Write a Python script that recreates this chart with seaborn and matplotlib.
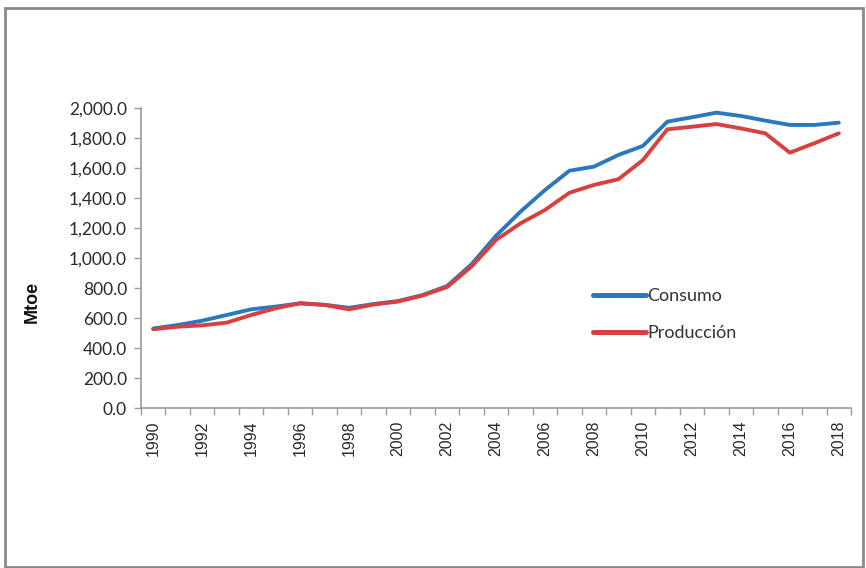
import matplotlib
matplotlib.use("Agg")
import matplotlib.pyplot as plt
import seaborn as sns
import pandas as pd
from matplotlib.patches import Rectangle
from matplotlib.ticker import FuncFormatter, MultipleLocator

years = [1990, 1991, 1992, 1993, 1994, 1995, 1996, 1997, 1998, 1999,
         2000, 2001, 2002, 2003, 2004, 2005, 2006, 2007, 2008, 2009,
         2010, 2011, 2012, 2013, 2014, 2015, 2016, 2017, 2018]
consumo = [532, 555, 584, 622, 660, 678, 700, 690, 670, 695,
           715, 755, 815, 960, 1150, 1311, 1455, 1584, 1611, 1689,
           1749, 1911, 1940, 1971, 1949, 1918, 1889, 1889, 1904]
produccion = [527, 544, 553, 571, 622, 667, 700, 689, 660, 692,
              712, 752, 808, 945, 1122, 1233, 1322, 1437, 1489, 1527,
              1655, 1860, 1877, 1895, 1866, 1833, 1704, 1767, 1833]
series_names = ["Consumo", "Producción"]
colors = ["#2b78be", "#d8403f"]

df = pd.DataFrame({
    "Año": years * 2,
    "Mtoe": consumo + produccion,
    "Serie": [series_names[0]] * len(years) + [series_names[1]] * len(years),
})

sns.set_theme(style="white")
plt.rcParams["font.family"] = ["Lato", "DejaVu Sans"]

fig = plt.figure(figsize=(8.66, 5.68), dpi=100)
ax = fig.add_axes([141 / 866, 1 - 408.3 / 568, (851 - 141) / 866, 300 / 568])

sns.lineplot(data=df, x="Año", y="Mtoe", hue="Serie", palette=colors,
             linewidth=2.8, ax=ax, legend=True)

ax.set_xlim(years[0] - 0.5, years[-1] + 0.5)
ax.set_ylim(0, 2000)
ax.yaxis.set_major_locator(MultipleLocator(200))
ax.yaxis.set_major_formatter(FuncFormatter(lambda v, p: f"{v:,.1f}"))
ax.set_xticks(years[::2])
ax.set_xticklabels([str(y) for y in years[::2]], rotation=90,
                   family=["Liberation Sans", "DejaVu Sans"], fontsize=11.5,
                   color="#2a2a2a")
ax.set_xticks([y + 0.5 for y in [years[0] - 1] + years], minor=True)
ax.tick_params(axis="x", which="major", length=0, pad=9)
ax.tick_params(axis="x", which="minor", length=5, width=1, color="#9a9a9a",
               direction="out", bottom=True)
ax.tick_params(axis="y", which="major", length=5, width=1, color="#9a9a9a",
               direction="out", left=True, labelsize=12.5, labelcolor="#2a2a2a",
               pad=5)
for s in ["top", "right"]:
    ax.spines[s].set_visible(False)
for s in ["left", "bottom"]:
    ax.spines[s].set_color("#9a9a9a")
    ax.spines[s].set_linewidth(1.2)
ax.set_xlabel("")
ax.set_ylabel("")
fig.text(32 / 866, 1 - 302 / 568, "Mtoe", rotation=90, ha="center", va="center",
         fontsize=13, fontweight="bold", color="#111111",
         family=["Liberation Sans", "DejaVu Sans"])

leg = ax.legend(loc="upper left", bbox_to_anchor=((586 - 141) / 710, 1 - (281 - 108.3) / 300),
                frameon=False, fontsize=13, handlelength=2.9, handletextpad=0.1,
                labelspacing=1.15, borderaxespad=0)
for t in leg.get_texts():
    t.set_color("#333333")
for h in leg.get_lines():
    h.set_linewidth(3.6)

fig.patches.append(Rectangle((5 / 866, 1 / 568), 858 / 866, 559 / 568,
                             transform=fig.transFigure, fill=False,
                             edgecolor="#8a8a8a", linewidth=2))

fig.savefig("out.png", dpi=100)
